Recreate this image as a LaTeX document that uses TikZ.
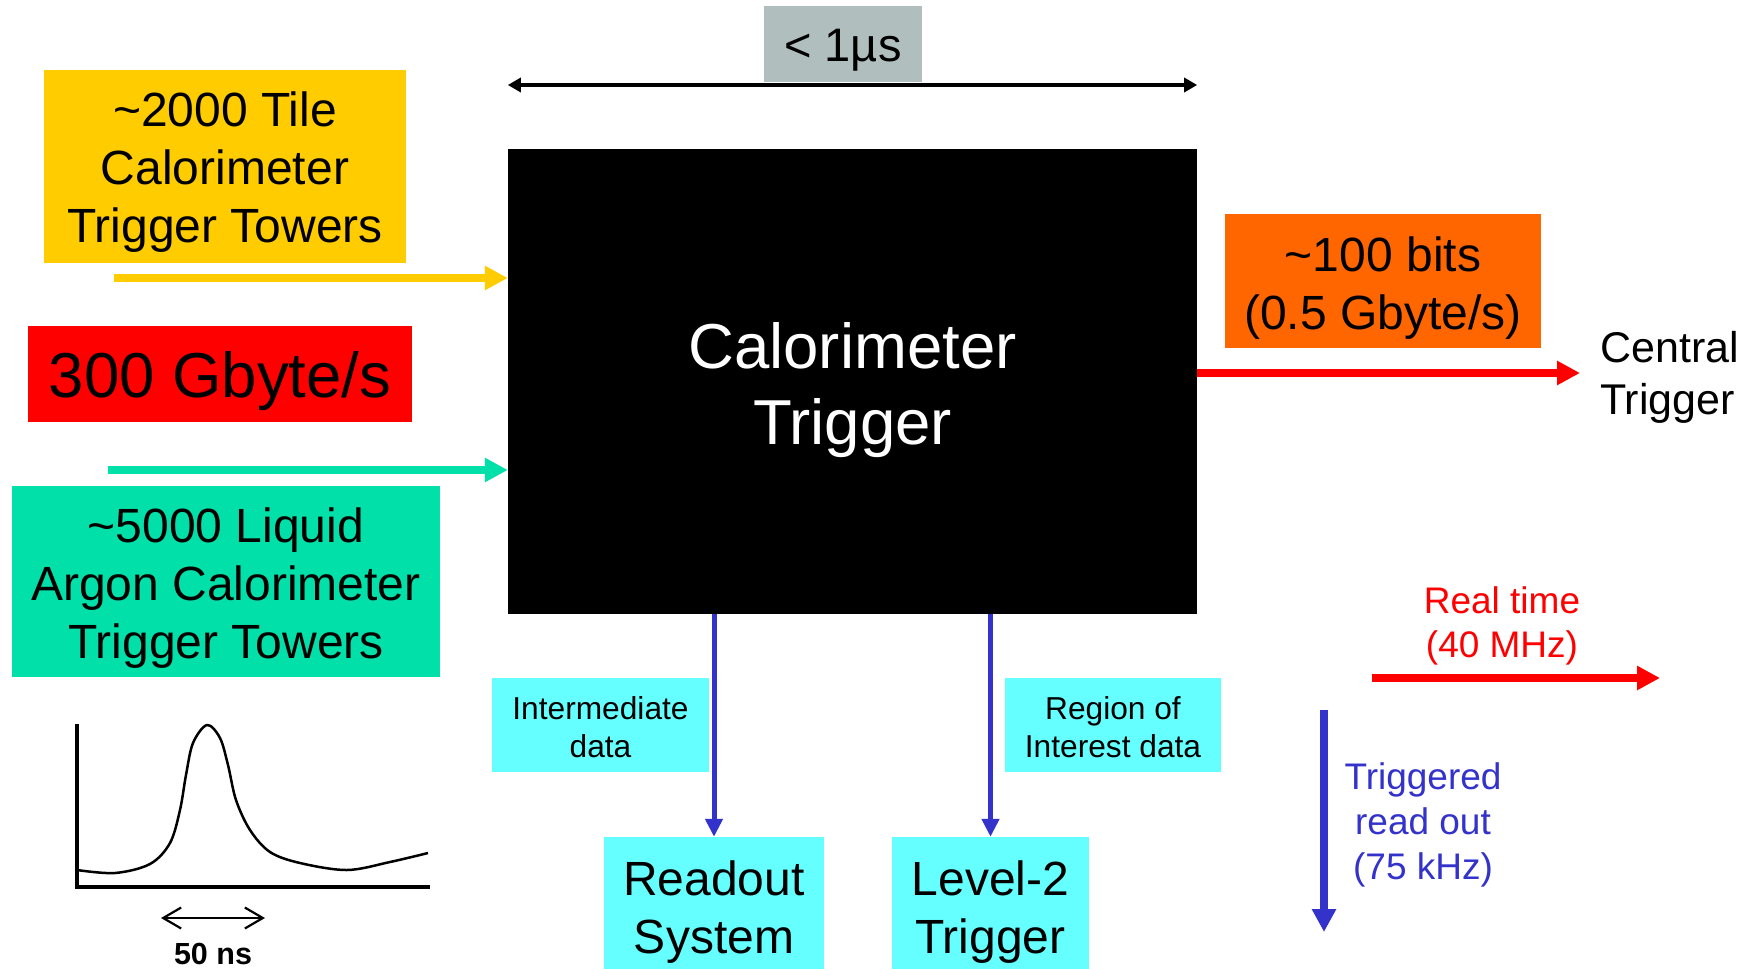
\documentclass[tikz,border=0pt]{standalone}
\usepackage{fontspec}
\setmainfont{Liberation Sans}
\usetikzlibrary{arrows.meta}
\definecolor{tileyellow}{HTML}{FFCC00}
\definecolor{argongreen}{HTML}{00E0A8}
\definecolor{rateorange}{HTML}{FF6600}
\definecolor{latgrey}{HTML}{B0BEBE}
\definecolor{roicyan}{HTML}{66FFFF}
\definecolor{readblue}{HTML}{3333CC}
\newcommand{\sz}[2]{\fontsize{#1pt}{#2pt}\selectfont}
\tikzset{
  box/.style={rectangle, inner sep=0pt},
  capt/.style={inner sep=0pt, align=center, text=black},
  fatarrow/.style={line width=8pt, -{Triangle[length=23pt,width=23pt]}},
  thinarrow/.style={readblue, line width=5pt, -{Triangle[length=18pt,width=17pt]}},
  spanarrow/.style={line width=3.5pt, {Triangle[length=13pt,width=14pt]}-{Triangle[length=13pt,width=14pt]}},
}
\begin{document}
\begin{tikzpicture}[x=1pt, y=-1pt]
\useasboundingbox (0,0) rectangle (1751,969);

% central processor
\node (cal) [box, fill=black, minimum width=689pt, minimum height=465pt,
  label={[capt, text=white, font=\sz{63.5}{76}, yshift=-9pt]center:Calorimeter\\Trigger}]
  at (852.5,381.5) {};

% latency span
\node (lat) [box, fill=latgrey, minimum width=158pt, minimum height=76pt,
  label={[capt, font=\sz{47}{56}, yshift=-6pt]center:< 1µs}] at (843,44) {};
\coordinate (span) at (852,85);
\draw[spanarrow] (cal.north west |- span) -- (cal.north east |- span);

% inputs
\node (tile) [box, fill=tileyellow, minimum width=362pt, minimum height=193pt,
  label={[capt, font=\sz{48}{58}, yshift=-6pt]center:\textasciitilde2000 Tile\\Calorimeter\\Trigger Towers}]
  at (225,166.5) {};
\node (rate) [box, fill=red, minimum width=384pt, minimum height=96pt,
  label={[capt, font=\sz{63.5}{76}, yshift=-7pt]center:300 Gbyte/s}] at (220,374) {};
\node (lar) [box, fill=argongreen, minimum width=428pt, minimum height=191pt,
  label={[capt, font=\sz{48}{58}, yshift=-7pt]center:\textasciitilde5000 Liquid\\Argon Calorimeter\\Trigger Towers}]
  at (226,581.5) {};
\coordinate (tilein) at (114,278);
\coordinate (larin) at (108,470);
\draw[fatarrow, tileyellow] (tilein) -- (tilein -| cal.west);
\draw[fatarrow, argongreen] (larin) -- (larin -| cal.west);

% output to central trigger
\node (bits) [box, fill=rateorange, minimum width=316pt, minimum height=134pt,
  label={[capt, font=\sz{48}{58}, yshift=-7pt]center:\textasciitilde100 bits\\(0.5 Gbyte/s)}]
  at (1383,281) {};
\coordinate (ctout) at (1580,373);
\draw[fatarrow, red] (cal.east |- ctout) -- (ctout);
\node (ctp) [capt, anchor=west, align=left, font=\sz{43}{52}] at (1600,377) {Central\\Trigger};

% read-out paths
\node (imd) [box, fill=roicyan, minimum width=217pt, minimum height=94pt,
  label={[capt, font=\sz{31.7}{38}, yshift=-2pt]center:Intermediate\\data}] at (600.5,725) {};
\node (roi) [box, fill=roicyan, minimum width=216pt, minimum height=94pt,
  label={[capt, font=\sz{31.7}{38}, yshift=-2pt]center:Region of\\Interest data}] at (1113,725) {};
\node (ros) [box, fill=roicyan, minimum width=220pt, minimum height=134pt,
  label={[capt, font=\sz{48}{58}, yshift=-8pt]center:Readout\\System}] at (714,904) {};
\node (l2) [box, fill=roicyan, minimum width=197pt, minimum height=134pt,
  label={[capt, font=\sz{48}{58}, yshift=-8pt]center:Level-2\\Trigger}] at (990.5,904) {};
\draw[thinarrow] (ros.north |- cal.south) -- (ros.north);
\draw[thinarrow] (l2.north |- cal.south) -- (l2.north);

% legend
\node (rt) [capt, text=red, font=\sz{37}{44}] at (1502,626) {Real time\\(40 MHz)};
\coordinate (rt1) at (1372,678);
\coordinate (rt2) at (1660,678);
\draw[fatarrow, red] (rt1) -- (rt2);
\coordinate (tr1) at (1324,710);
\coordinate (tr2) at (1324,932);
\draw[fatarrow, readblue] (tr1) -- (tr2);
\node (tro) [capt, text=readblue, font=\sz{37}{44.6}] at (1423,825) {Triggered\\read out\\(75 kHz)};

% pulse shape
\draw[line width=3.5pt, line cap=rect] (77,726) -- (77,887) -- (428,887);
\draw[line width=2.5pt, line join=round] plot[smooth, tension=0.55] coordinates {
  (77,870) (115,873) (150,864) (170,843) (180,810) (186,775) (193,743)
  (207,725) (220,738) (228,765) (236,800) (250,830) (270,852) (300,863)
  (347,870) (390,862) (428,853)};
\draw[line width=2.2pt, {Straight Barb[length=18pt,width=21pt]}-{Straight Barb[length=18pt,width=21pt]}]
  (161,918) -- (265,918);
\node (ns) [capt, font=\bfseries\sz{30.5}{36}] at (213,954) {50 ns};
\end{tikzpicture}
\end{document}
